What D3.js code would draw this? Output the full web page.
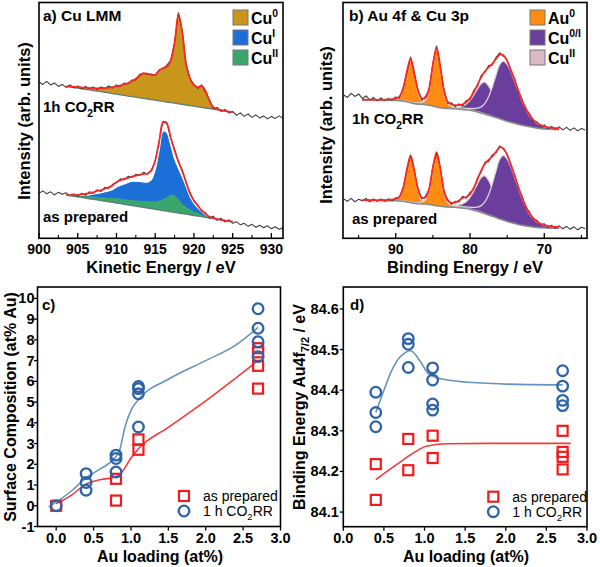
<!DOCTYPE html>
<html><head><meta charset="utf-8">
<script src="https://cdnjs.cloudflare.com/ajax/libs/d3/7.8.5/d3.min.js"></script>
<style>
html,body{margin:0;padding:0;background:#fff;}
svg{display:block;}
text{font-family:"Liberation Sans",Arial,Helvetica,sans-serif;}
</style></head><body>
<svg id="chart" width="600" height="567"></svg>
<script>
// ================= Panel a: Cu LMM (kinetic energy / eV) =================
const lmmRawStart = 900, lmmFitStart = 903.5, lmmStep = 0.5;
const lmmRawCO2RR = [156.5,154,157,153.5,155.5,152,154,151,153.5,150.5,
 152.5,149.5,152,150,151.5,149,151.5,150,152.5,150.5,
 153.5,152,155.5,154.5,158.5,158.5,164,165.5,164,164.5,
 163,168.5,170,173,178,196,226,207,174,160,
 154,150,153.5,146,139,130,131,127,129,125.5,
 127,123,125.5,122,124.5,121,123.5,120.5,122.5,119.5,
 122,120,122.5,120];
const lmmRawPrepared = [45,47.5,44.5,46.5,43.5,46,44,45.5,42.5,44.5,
 42,45,43,46.5,45,48.5,47,51,50,54,
 55.5,59.5,58.5,62,61,64,63,66,64,68.5,
 77,97,117,116,100,89.5,76,68.5,55,46,
 37,33.5,27,25.5,20.5,22,18,20,16.5,18.5,
 15,16.5,13.5,15,12,14,11,13,10.5,12.5,
 9.5,11.5,9,10.5];
const lmmBgCO2RR = [152.1,151.5,150.9,150.3,149.7,149.1,148.5,147.9,147.3,146.7,
 146.1,145.5,144.9,144.2,143.6,143.0,142.4,141.8,141.2,140.6,
 140.0,139.4,138.8,138.2,137.6,137.0,136.4,135.8,135.2,134.6,
 134.0,133.4,132.8,132.2,131.6,131.0,130.4,129.8,129.2,128.6,
 128.0,127.4,126.8,126.2];
const lmmBgPrepared = [43.3,42.7,42.1,41.5,40.9,40.2,39.6,39.0,38.4,37.7,
 37.1,36.5,35.9,35.3,34.6,34.0,33.4,32.8,32.1,31.5,
 30.9,30.3,29.7,29.0,28.4,27.8,27.2,26.5,25.9,25.3,
 24.7,24.1,23.4,22.8,22.2,21.6,20.9,20.3,19.7,19.1,
 18.5,17.8,17.2,16.6];
const lmmCu0CO2RR = [0,0.5,0.8,1,1.3,1.6,1.9,2.2,2.8,3.5,
 4.3,5.2,6.4,7.8,9.4,11,13,15.5,18.5,22,
 25,25.5,24.5,25.5,30,33.5,35,42,60,90,
 72,40,27,21,19.5,21.5,17,8,2,0.8,
 0.3,0,0,0];
const lmmFitPrepared = [0,0.5,1.2,2,3,4.2,5.5,7,9,10.5,
 12.5,14.5,17,21,23.5,25.5,27,29,30.5,32,
 33.5,34.5,38,49,67.5,88,87.5,74.5,62,51.5,
 42.3,32,21.2,15,10.3,6.4,3.5,1.2,0.5,0.2,
 0,0,0,0];
const lmmCuIPrepared = [0,0.3,0.8,1.3,2,3,4,5.2,6.5,8,
 9.5,11,13,16,18.5,20.5,22.5,24.5,25,25.5,
 25.5,26,29,40,59.5,79.5,79,67.5,54,45,
 37,28,18.5,12.5,8.5,5.3,2.8,1,0.3,0,
 0,0,0,0];
const lmmCuIIPrepared = [0,0.3,0.6,1,1.4,1.8,2.2,2.6,3,3.4,
 3.8,4.1,4.4,4.7,5,5.2,5.4,5.5,5.8,6.2,
 6.6,7,7.3,8,9.5,11.5,14,17,17.5,14,
 10,7.5,5.5,4,3,2.2,1.5,0.8,0.3,0,
 0,0,0,0];
const lmmMajorTicks = [900,905,910,915,920,925,930];
const lmmMinorTicks = [902.5,907.5,912.5,917.5,922.5,927.5];
const lmmLegend = [["Cu","0"],["Cu","I"],["Cu","II"]];

// ================= Panel b: Au 4f & Cu 3p (binding energy / eV) =================
const bRawStart = 97, bFitStart = 94.5, bStep = 0.5;
const bRawCO2RR = [143.5,141,145,142,144.5,140,142.5,138.5,141,137.5,
 140.5,138,140,138,141.5,140.5,151,165.5,181.5,163.5,
 148.5,138,142,149,175,192.5,171,149,135,135.5,
 131.5,134.5,132.5,138,139,148,152,163,166,173,
 173.5,181,185.5,182,178.5,167,160,146.5,139.5,128.5,
 125,117.5,116.5,112,113.5,110,112,109,111.5,108.5,
 111,108,110.5,107.5,110,108.5];
const bRawPrepared = [39.5,37,40,36.5,39,37.5,40,36.5,39.5,37,
 39.5,37,39.5,37.5,40.5,41,51,68,83.5,67,
 50,39.5,42,49,72,85.5,70.5,46,39,34,
 37,36.5,42,40,46,49,60.5,66.5,76,77,
 83.5,85.5,92.5,89,84.5,72.5,64,50,42.5,30.5,
 26.5,19,18,13.5,14.5,11,13,10,12.5,9.5,
 12,9,11.5,8.5,11,9.5];
const bBgCO2RR = [138.5,138.5,138.4,138.4,138.3,138.3,138.2,138.2,138.1,138.0,
 137.8,137.4,136.6,135.6,134.8,134.3,134.0,133.7,133.2,132.4,
 131.5,130.7,130.2,130.0,129.8,129.6,129.3,129.0,128.6,128.1,
 127.4,126.5,125.4,124.3,123.2,122.0,120.8,119.6,118.4,117.2,
 116.1,115.1,114.1,113.2,112.4,111.6,110.9,110.3,109.8,109.4,
 109.2,109.1,109.0,109.0];
const bAu1CO2RR = [0.1,0.2,0.2,0.3,0.3,0.4,0.5,0.6,0.9,1.5,
 3.6,11.6,29.7,43,29.7,11.6,3.6,1.5,0.9,0.6,
 0.5,0.4,0.3,0.3,0.2,0.2,0.1,0,0,0,
 0,0,0,0,0,0,0,0,0,0,0,0,0,0,0,0,0,0,0,0,0,0,0,0];
const bAu2CO2RR = [0,0,0,0,0,0,0,0.1,0.2,0.3,
 0.3,0.4,0.5,0.7,0.8,1.2,2.1,4.8,15.6,40,
 58,40,15.6,4.8,2.1,1.2,0.8,0.7,0.5,0.4,
 0.3,0.3,0.2,0.1,0.1,0,0,0,0,0,
 0,0,0,0,0,0,0,0,0,0,0,0,0,0];
const bCu2CO2RR = [0,0,0,0,0,0,0,0,0,0,
 0,0,0.2,0.2,0.2,0.25,0.25,0.3,0.35,0.4,
 0.5,0.6,0.7,0.8,1.0,1.3,2.0,3.3,5.8,10,
 16,23.1,29.4,32,29.4,23.1,16,10,5.8,3.3,
 2.0,1.3,1.0,0.8,0.7,0.6,0.5,0.4,0.35,0.3,
 0.25,0.2,0.2,0.2];
const bCu1CO2RR = [0,0,0,0,0,0,0,0,0,0,
 0.2,0.2,0.25,0.25,0.3,0.3,0.3,0.35,0.4,0.44,
 0.47,0.5,0.6,0.65,0.8,0.9,1.1,1.2,1.5,1.8,
 2.5,3.7,6.1,10.7,18.4,29.5,42.6,54.2,59,56.8,
 50.6,42.2,33.1,24.4,17.1,11.5,7.5,4.9,3.2,2.2,
 1.7,1.2,1.1,0.9];
const bBgPrepared = [38.0,38.0,37.9,37.9,37.8,37.8,37.7,37.7,37.6,37.6,
 37.4,37.0,36.4,35.6,35.0,34.7,34.5,34.3,33.9,33.3,
 32.6,32.0,31.6,31.4,31.2,31.0,30.7,30.3,29.8,29.1,
 28.2,27.1,25.9,24.6,23.3,22.0,20.7,19.4,18.1,16.9,
 15.8,14.8,13.9,13.1,12.4,11.8,11.3,10.9,10.6,10.4,
 10.2,10.1,10.0,10.0];
const bAu1Prepared = [0.15,0.2,0.25,0.28,0.3,0.4,0.55,0.7,1.0,1.6,
 3.8,12.4,31.7,46,31.7,12.4,3.8,1.6,1.0,0.7,
 0.55,0.4,0.3,0.28,0.25,0.2,0.15,0.1,0,0,
 0,0,0,0,0,0,0,0,0,0,0,0,0,0,0,0,0,0,0,0,0,0,0,0];
const bAu2Prepared = [0,0,0,0,0,0,0,0.15,0.2,0.28,
 0.3,0.36,0.47,0.6,0.8,1.1,1.8,4.3,14.0,35.9,
 52,35.9,14.0,4.3,1.8,1.1,0.8,0.6,0.47,0.36,
 0.3,0.28,0.2,0.15,0.1,0,0,0,0,0,
 0,0,0,0,0,0,0,0,0,0,0,0,0,0];
const bCuIIPrepared = [0,0,0,0,0,0,0,0,0,0,
 0,0,0,0,0,0,0,0,0,0,
 0,0,0,0,0.2,0.8,2.5,4,2.5,0.8,
 0.2,0,0,0,0,0,0,0,0,0,
 0,0,0,0,0,0,0,0,0,0,0,0,0,0];
const bCu2Prepared = [0,0,0,0,0,0,0,0,0,0,
 0,0,0.2,0.22,0.25,0.3,0.34,0.38,0.42,0.5,
 0.57,0.7,0.8,0.95,1.2,1.6,2.4,4.0,6.9,11.9,
 19,27.4,34.9,38,34.9,27.4,19,11.9,6.9,4.0,
 2.4,1.6,1.2,0.95,0.8,0.7,0.57,0.5,0.42,0.38,
 0.34,0.3,0.28,0.25];
const bCu1Prepared = [0,0,0,0,0,0,0,0,0,0,
 0.25,0.27,0.3,0.32,0.35,0.37,0.4,0.42,0.44,0.48,
 0.52,0.58,0.65,0.72,0.85,1.0,1.2,1.4,1.6,2.0,
 2.7,4.1,6.8,11.8,20.3,32.5,46.9,59.7,65,62.5,
 55.8,46.5,36.5,26.9,18.9,12.7,8.3,5.4,3.6,2.5,
 1.8,1.4,1.2,1.0];
const bMajorTicks = [90,80,70];
const bMinorTicks = [95,85,75,65];
const bLegend = [["Au","0"],["Cu","0/I"],["Cu","II"]];

// ================= Panel c: surface composition =================
const cPrepX = [0,0.8,0.8,1.1,1.1,2.7,2.7,2.7,2.7];
const cPrepY = [0,1.3,0.25,3.2,2.7,7.6,7.4,6.75,5.65];
const cCO2X = [0,0.4,0.4,0.4,0.8,0.8,0.8,1.1,1.1,1.1,1.1,2.7,2.7,2.7,2.7];
const cCO2Y = [0,1.55,1.12,0.75,2.44,2.28,1.63,5.75,5.65,5.4,3.8,9.5,8.56,7.91,7.19];
const cPrepFitX = [0,0.2,0.4,0.6,0.78,0.88,1.0,1.1,1.5,2.0,2.7];
const cPrepFitY = [0.1,0.5,1.05,1.27,1.37,1.63,2.3,2.75,3.78,5.06,7.0];
const cCO2FitX = [-0.1,0.2,0.4,0.6,0.77,0.85,0.92,1.0,1.12,1.5,2.0,2.4,2.7];
const cCO2FitY = [-0.06,0.7,1.35,1.8,2.25,2.7,3.8,4.6,5.2,6.1,7.0,7.75,8.6];
const cXTicks = [0,0.5,1.0,1.5,2.0,2.5,3.0];
const cYTicks = [-1,0,1,2,3,4,5,6,7,8,9,10];

// ================= Panel d: binding energy Au4f7/2 =================
const dPrepX = [0.4,0.4,0.8,0.8,1.1,1.1,2.7,2.7,2.7,2.7];
const dPrepY = [84.218,84.13,84.28,84.203,84.288,84.233,84.3,84.248,84.236,84.205];
const dCO2X = [0.4,0.4,0.4,0.8,0.8,0.8,1.1,1.1,1.1,1.1,2.7,2.7,2.7,2.7];
const dCO2Y = [84.395,84.345,84.31,84.527,84.513,84.456,84.455,84.425,84.366,84.351,84.448,84.41,84.375,84.362];
const dPrepFitX = [0.4,0.65,0.86,1.02,1.27,1.8,2.8];
const dPrepFitY = [84.18,84.216,84.245,84.262,84.268,84.269,84.269];
const dCO2FitX = [0.4,0.5,0.6,0.7,0.83,0.95,1.05,1.2,1.5,2.0,2.7];
const dCO2FitY = [84.345,84.40,84.45,84.482,84.497,84.47,84.44,84.428,84.42,84.415,84.413];
const dXTicks = [0,0.5,1.0,1.5,2.0,2.5,3.0];
const dYTicks = [84.1,84.2,84.3,84.4,84.5,84.6];

const seriesNames = ["as prepared","1 h CO2RR"];

// ================= drawing =================
const svg = d3.select("#chart");
const defs = svg.append("defs");
const COL = {cu0:"#c9961c", cuI:"#1c6fd6", cuII:"#3aa66c", au:"#ff8c12", cu01:"#6b3d9c", cuIIb:"#dbbac6",
  red:"#ff2626", raw:"#3a3a3a", bgA:"#5d7d7b", bgB:"#8a8a8a", sq:"#ee1c1c", circ:"#2e63a6",
  fitRed:"#f23b3b", fitBlue:"#6593c0"};

function clip(id,x0,y0,x1,y1){
  defs.append("clipPath").attr("id",id).append("rect").attr("x",x0).attr("y",y0).attr("width",x1-x0).attr("height",y1-y0);
  return svg.append("g").attr("clip-path",`url(#${id})`);
}
function frame(x0,y0,x1,y1){
  svg.append("rect").attr("x",x0).attr("y",y0).attr("width",x1-x0).attr("height",y1-y0)
    .attr("fill","none").attr("stroke","#000").attr("stroke-width",1.6);
}
const curve = d3.curveCatmullRom.alpha(0.5);
function energies(start, step, n, dir){ return d3.range(n).map(i=>start+dir*step*i); }

function comp(g, xs, x, y, base, h, fill, outline){
  const pts = xs.map((e,i)=>({e, b:base[i], t:base[i]+h[i], h:h[i]}));
  let lo = pts.findIndex(d=>d.h>0), hi = pts.length-1 - [...pts].reverse().findIndex(d=>d.h>0);
  lo = Math.max(0,lo-1); hi = Math.min(pts.length-1,hi+1);
  const sub = pts.slice(lo,hi+1);
  g.append("path").datum(sub).attr("fill",fill)
    .attr("d", d3.area().x(d=>x(d.e)).y0(d=>y(d.b)).y1(d=>y(d.t)).curve(curve));
  if(outline) g.append("path").datum(sub).attr("fill","none").attr("stroke",outline).attr("stroke-width",1.3)
    .attr("d", d3.line().x(d=>x(d.e)).y(d=>y(d.t)).curve(curve));
}
function line(g, xs, ys, x, y, color, w, c){
  g.append("path").datum(xs.map((e,i)=>[e,ys[i]])).attr("fill","none").attr("stroke",color)
    .attr("stroke-width",w).attr("stroke-linejoin","round")
    .attr("d", d3.line().x(d=>x(d[0])).y(d=>y(d[1])).curve(c||d3.curveLinear));
}
function sumArr(...arrs){ return arrs[0].map((_,i)=>arrs.reduce((s,a)=>s+a[i],0)); }
function co2rr(t, size){
  t.append("tspan").text(t.attr("data-pre"));
  t.append("tspan").attr("dy",size*0.3).attr("font-size",size*0.68).text("2");
  t.append("tspan").attr("dy",-size*0.3).text("RR");
}
function supLabel(g,x,y,base,sup,size){
  const t=g.append("text").attr("x",x).attr("y",y).attr("font-size",size).attr("font-weight","bold");
  t.append("tspan").text(base);
  t.append("tspan").attr("dy",-size*0.38).attr("font-size",size*0.65).text(sup);
}

// ---------- Panel a ----------
(function(){
  const x = d3.scaleLinear().domain([900,931.5]).range([39,283]);
  const y = d3.scaleLinear().domain([0,236]).range([238.3,2.5]);
  const g = clip("clipA",39,2.5,283,238.3);
  const fitE = energies(lmmFitStart,lmmStep,lmmBgCO2RR.length,1);
  const rawE = energies(lmmRawStart,lmmStep,lmmRawCO2RR.length,1);
  comp(g,fitE,x,y,lmmBgCO2RR,lmmCu0CO2RR,COL.cu0,null);
  line(g,fitE,lmmBgCO2RR,x,y,COL.bgA,1.3);
  line(g,rawE,lmmRawCO2RR,x,y,COL.raw,1.1);
  line(g,fitE,sumArr(lmmBgCO2RR,lmmCu0CO2RR),x,y,COL.red,1.7,curve);
  comp(g,fitE,x,y,lmmBgPrepared,lmmCuIPrepared,COL.cuI,"#ffffff");
  comp(g,fitE,x,y,lmmBgPrepared,lmmCuIIPrepared,COL.cuII,null);
  line(g,fitE,lmmBgPrepared,x,y,COL.bgA,1.3);
  line(g,rawE,lmmRawPrepared,x,y,COL.raw,1.1);
  line(g,fitE,sumArr(lmmBgPrepared,lmmFitPrepared),x,y,COL.red,1.7,curve);
  frame(39,2.5,283,238.3);
  lmmMajorTicks.forEach(v=>svg.append("line").attr("x1",x(v)).attr("x2",x(v)).attr("y1",238.3).attr("y2",233).attr("stroke","#000").attr("stroke-width",1.3));
  lmmMinorTicks.forEach(v=>svg.append("line").attr("x1",x(v)).attr("x2",x(v)).attr("y1",238.3).attr("y2",235).attr("stroke","#000").attr("stroke-width",1.1));
  lmmMajorTicks.forEach(v=>svg.append("text").attr("x",x(v)).attr("y",254).attr("text-anchor","middle").attr("font-size",14).attr("font-weight","bold").text(v));
  svg.append("text").attr("x",161).attr("y",273).attr("text-anchor","middle").attr("font-size",16.5).attr("font-weight","bold").text("Kinetic Energy / eV");
  svg.append("text").attr("transform","translate(30,121) rotate(-90)").attr("text-anchor","middle").attr("font-size",16.5).attr("font-weight","bold").text("Intensity (arb. units)");
  svg.append("text").attr("x",43).attr("y",20.5).attr("font-size",15.5).attr("font-weight","bold").text("a) Cu LMM");
  const t1 = svg.append("text").attr("x",43).attr("y",112).attr("font-size",15).attr("font-weight","bold").attr("data-pre","1h CO");
  co2rr(t1,15);
  svg.append("text").attr("x",43).attr("y",222).attr("font-size",15).attr("font-weight","bold").text("as prepared");
  const cols=[COL.cu0,COL.cuI,COL.cuII];
  lmmLegend.forEach((d,i)=>{
    svg.append("rect").attr("x",233).attr("y",10+20*i).attr("width",15).attr("height",15).attr("fill",cols[i]).attr("stroke","#777").attr("stroke-width",1);
    supLabel(svg,251,23.5+20*i,d[0],d[1],16);
  });
})();

// ---------- Panel b ----------
(function(){
  const x = d3.scaleLinear().domain([97.1,64.25]).range([343,587]);
  const y = d3.scaleLinear().domain([0,236]).range([238.3,2.5]);
  const g = clip("clipB",343,2.5,587,238.3);
  const fitE = energies(bFitStart,bStep,bBgCO2RR.length,-1);
  const rawE = energies(bRawStart,bStep,bRawCO2RR.length,-1);
  const ol = "#ddd4de";
  comp(g,fitE,x,y,bBgCO2RR,bCu2CO2RR,COL.cu01,ol);
  comp(g,fitE,x,y,bBgCO2RR,bCu1CO2RR,COL.cu01,ol);
  comp(g,fitE,x,y,bBgCO2RR,bAu1CO2RR,COL.au,ol);
  comp(g,fitE,x,y,bBgCO2RR,bAu2CO2RR,COL.au,ol);
  line(g,fitE,bBgCO2RR,x,y,COL.bgB,1.6,curve);
  line(g,rawE,bRawCO2RR,x,y,COL.raw,1.1);
  line(g,fitE,sumArr(bBgCO2RR,bAu1CO2RR,bAu2CO2RR,bCu2CO2RR,bCu1CO2RR),x,y,COL.red,1.7,curve);
  comp(g,fitE,x,y,bBgPrepared,bCuIIPrepared,COL.cuIIb,"#c9a9b4");
  comp(g,fitE,x,y,bBgPrepared,bCu2Prepared,COL.cu01,ol);
  comp(g,fitE,x,y,bBgPrepared,bCu1Prepared,COL.cu01,ol);
  comp(g,fitE,x,y,bBgPrepared,bAu1Prepared,COL.au,ol);
  comp(g,fitE,x,y,bBgPrepared,bAu2Prepared,COL.au,ol);
  line(g,fitE,bBgPrepared,x,y,COL.bgB,1.6,curve);
  line(g,rawE,bRawPrepared,x,y,COL.raw,1.1);
  line(g,fitE,sumArr(bBgPrepared,bAu1Prepared,bAu2Prepared,bCuIIPrepared,bCu2Prepared,bCu1Prepared),x,y,COL.red,1.7,curve);
  frame(343,2.5,587,238.3);
  bMajorTicks.forEach(v=>svg.append("line").attr("x1",x(v)).attr("x2",x(v)).attr("y1",238.3).attr("y2",233).attr("stroke","#000").attr("stroke-width",1.3));
  bMinorTicks.forEach(v=>svg.append("line").attr("x1",x(v)).attr("x2",x(v)).attr("y1",238.3).attr("y2",235).attr("stroke","#000").attr("stroke-width",1.1));
  bMajorTicks.forEach(v=>svg.append("text").attr("x",x(v)).attr("y",254).attr("text-anchor","middle").attr("font-size",14).attr("font-weight","bold").text(v));
  svg.append("text").attr("x",465).attr("y",273).attr("text-anchor","middle").attr("font-size",16.5).attr("font-weight","bold").text("Binding Energy / eV");
  svg.append("text").attr("transform","translate(332,125) rotate(-90)").attr("text-anchor","middle").attr("font-size",16.5).attr("font-weight","bold").text("Intensity (arb. units)");
  svg.append("text").attr("x",349).attr("y",20.5).attr("font-size",15.5).attr("font-weight","bold").text("b) Au 4f & Cu 3p");
  const t1 = svg.append("text").attr("x",352).attr("y",124).attr("font-size",15).attr("font-weight","bold").attr("data-pre","1h CO");
  co2rr(t1,15);
  svg.append("text").attr("x",352).attr("y",224).attr("font-size",15).attr("font-weight","bold").text("as prepared");
  const cols=[COL.au,COL.cu01,COL.cuIIb];
  bLegend.forEach((d,i)=>{
    svg.append("rect").attr("x",530).attr("y",10+20*i).attr("width",15).attr("height",15).attr("fill",cols[i]).attr("stroke","#777").attr("stroke-width",1);
    supLabel(svg,548,23.5+20*i,d[0],d[1],16);
  });
})();

// ---------- scatter helpers ----------
function squares(g,xs,ys,x,y){
  xs.forEach((v,i)=>g.append("rect").attr("x",x(v)-5).attr("y",y(ys[i])-5).attr("width",10).attr("height",10)
    .attr("fill","none").attr("stroke",COL.sq).attr("stroke-width",2.2));
}
function circles(g,xs,ys,x,y){
  xs.forEach((v,i)=>g.append("circle").attr("cx",x(v)).attr("cy",y(ys[i])).attr("r",5.3)
    .attr("fill","none").attr("stroke",COL.circ).attr("stroke-width",2.3));
}
function legendCD(x0,y0){
  svg.append("rect").attr("x",x0-5).attr("y",y0-5).attr("width",10).attr("height",10).attr("fill","none").attr("stroke",COL.sq).attr("stroke-width",2.2);
  svg.append("circle").attr("cx",x0).attr("cy",y0+15).attr("r",5.3).attr("fill","none").attr("stroke",COL.circ).attr("stroke-width",2.3);
  svg.append("text").attr("x",x0+19).attr("y",y0+5).attr("font-size",14).text(seriesNames[0]);
  const t=svg.append("text").attr("x",x0+19).attr("y",y0+20).attr("font-size",14).attr("data-pre","1 h CO");
  co2rr(t,14);
}

// ---------- Panel c ----------
(function(){
  const X0=37.5,X1=280.5,Y0=287,Y1=526.5;
  const x = d3.scaleLinear().domain([-0.25,3.0]).range([X0,X1]);
  const y = d3.scaleLinear().domain([-1,10.55]).range([Y1,Y0]);
  const g = clip("clipC",X0,Y0,X1,Y1);
  line(g,cPrepFitX,cPrepFitY,x,y,COL.fitRed,1.6,d3.curveMonotoneX);
  line(g,cCO2FitX,cCO2FitY,x,y,COL.fitBlue,1.6,d3.curveMonotoneX);
  squares(svg,cPrepX,cPrepY,x,y);
  circles(svg,cCO2X,cCO2Y,x,y);
  frame(X0,Y0,X1,Y1);
  cXTicks.forEach(v=>{
    svg.append("line").attr("x1",x(v)).attr("x2",x(v)).attr("y1",Y1).attr("y2",Y1+4).attr("stroke","#000").attr("stroke-width",1.3);
    svg.append("text").attr("x",x(v)).attr("y",543).attr("text-anchor","middle").attr("font-size",14.5).attr("font-weight","bold").text(v.toFixed(1));
  });
  cYTicks.forEach(v=>{
    svg.append("line").attr("x1",X0-3.5).attr("x2",X0).attr("y1",y(v)).attr("y2",y(v)).attr("stroke","#000").attr("stroke-width",1.3);
    svg.append("text").attr("x",X0-3).attr("y",y(v)+5).attr("text-anchor","end").attr("font-size",14.5).attr("font-weight","bold").text(v);
  });
  svg.append("text").attr("x",42).attr("y",309.5).attr("font-size",15).attr("font-weight","bold").text("c)");
  svg.append("text").attr("x",160).attr("y",562).attr("text-anchor","middle").attr("font-size",16).attr("font-weight","bold").text("Au loading (at%)");
  svg.append("text").attr("transform","translate(15.5,407) rotate(-90)").attr("text-anchor","middle").attr("font-size",16).attr("font-weight","bold").text("Surface Composition (at% Au)");
  legendCD(184,496);
})();

// ---------- Panel d ----------
(function(){
  const X0=343.3,X1=587,Y0=287,Y1=526.7;
  const x = d3.scaleLinear().domain([0,3.0]).range([X0,X1]);
  const y = d3.scaleLinear().domain([84.064,84.654]).range([Y1,Y0]);
  const g = clip("clipD",X0,Y0,X1,Y1);
  line(g,dPrepFitX,dPrepFitY,x,y,COL.fitRed,1.6,d3.curveMonotoneX);
  line(g,dCO2FitX,dCO2FitY,x,y,COL.fitBlue,1.6,d3.curveCatmullRom);
  squares(svg,dPrepX,dPrepY,x,y);
  circles(svg,dCO2X,dCO2Y,x,y);
  frame(X0,Y0,X1,Y1);
  dXTicks.forEach(v=>{
    svg.append("line").attr("x1",x(v)).attr("x2",x(v)).attr("y1",Y1).attr("y2",Y1+4).attr("stroke","#000").attr("stroke-width",1.3);
    svg.append("text").attr("x",x(v)).attr("y",543).attr("text-anchor","middle").attr("font-size",14.5).attr("font-weight","bold").text(v.toFixed(1));
  });
  dYTicks.forEach(v=>{
    svg.append("line").attr("x1",X0-3.5).attr("x2",X0).attr("y1",y(v)).attr("y2",y(v)).attr("stroke","#000").attr("stroke-width",1.3);
    svg.append("text").attr("x",X0-4.5).attr("y",y(v)+5).attr("text-anchor","end").attr("font-size",14.5).attr("font-weight","bold").text(v.toFixed(1));
  });
  svg.append("text").attr("x",350).attr("y",309.5).attr("font-size",15).attr("font-weight","bold").text("d)");
  svg.append("text").attr("x",466).attr("y",562).attr("text-anchor","middle").attr("font-size",16).attr("font-weight","bold").text("Au loading (at%)");
  const t=svg.append("text").attr("transform","translate(305,407) rotate(-90)").attr("text-anchor","middle").attr("font-size",16).attr("font-weight","bold");
  t.append("tspan").text("Binding Energy Au4f");
  t.append("tspan").attr("dy",4).attr("font-size",11).text("7/2");
  t.append("tspan").attr("dy",-4).text(" / eV");
  legendCD(493.3,496.7);
})();
</script></body></html>
